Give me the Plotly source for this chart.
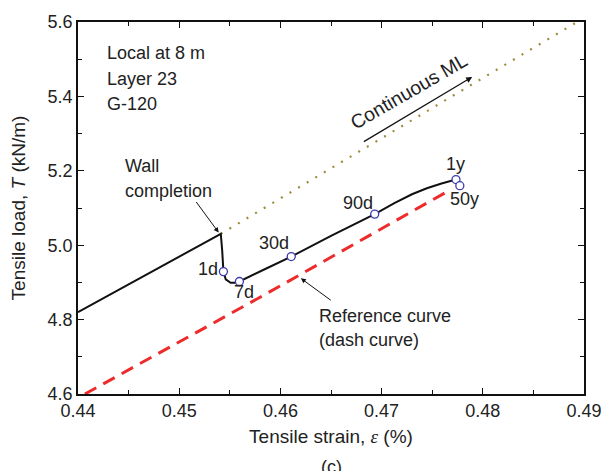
import plotly.graph_objects as go

# ---- data ----
strain_tl = [0.4400, 0.45411, 0.45425, 0.45437, 0.45460, 0.45508, 0.45550, 0.45595,
             0.4585, 0.46107, 0.4650, 0.46932, 0.47126, 0.47300, 0.47447, 0.47592, 0.47735]
load_tl = [4.820, 5.0305, 4.985, 4.929, 4.908, 4.899, 4.899, 4.9024,
           4.936, 4.9695, 5.025, 5.0836, 5.1130, 5.1370, 5.1530, 5.1660, 5.1764]

ml_strain = [0.45411, 0.4893]
ml_load = [5.0305, 5.600]

ref_strain = [0.44068, 0.45799, 0.47628]
ref_load = [4.600, 4.860, 5.141]

pt_labels = ["1d", "7d", "30d", "90d", "1y", "50y"]
pt_strain = [0.45437, 0.45595, 0.46107, 0.46932, 0.47735, 0.47773]
pt_load = [4.929, 4.9024, 4.9695, 5.0836, 5.1764, 5.160]
lbl_strain = [0.4528, 0.45637, 0.45937, 0.46764, 0.47727, 0.47823]
lbl_load = [4.937, 4.873, 5.005, 5.114, 5.218, 5.123]

xticks = [0.44, 0.45, 0.46, 0.47, 0.48, 0.49]
yticks = [4.6, 4.8, 5.0, 5.2, 5.4, 5.6]

FONT = "Liberation Sans, Arial, sans-serif"
TXT = "#222222"
FS = 18

fig = go.Figure()
fig.add_trace(go.Scatter(x=ml_strain, y=ml_load, mode="lines",
                         line=dict(color="#9c8c3c", width=2.2, dash="2px,8px"),
                         hoverinfo="skip", showlegend=False))
fig.add_trace(go.Scatter(x=ref_strain, y=ref_load, mode="lines",
                         line=dict(color="#ee2b2b", width=3, dash="13px,8px"),
                         showlegend=False))
fig.add_trace(go.Scatter(x=strain_tl, y=load_tl, mode="lines",
                         line=dict(color="#111111", width=2),
                         showlegend=False))
fig.add_trace(go.Scatter(x=pt_strain, y=pt_load, mode="markers",
                         marker=dict(symbol="circle", size=8, color="white",
                                     line=dict(color="#3a3ab0", width=1.3)),
                         showlegend=False))

ann = []
for t, xx, yy in zip(pt_labels, lbl_strain, lbl_load):
    ann.append(dict(x=xx, y=yy, xref="x", yref="y", text=t, showarrow=False,
                    font=dict(size=FS, color=TXT, family=FONT)))

for t, yy in zip(["Local at 8 m", "Layer 23", "G-120"], [5.516, 5.447, 5.379]):
    ann.append(dict(x=0.44266, y=yy, xref="x", yref="y", text=t, showarrow=False,
                    xanchor="left", font=dict(size=FS, color=TXT, family=FONT)))

for t, yy in zip(["Wall", "completion"], [5.213, 5.147]):
    ann.append(dict(x=0.44448, y=yy, xref="x", yref="y", text=t, showarrow=False,
                    xanchor="left", font=dict(size=FS, color=TXT, family=FONT)))
for t, yy in zip(["Reference curve", "(dash curve)"], [4.809, 4.746]):
    ann.append(dict(x=0.46361, y=yy, xref="x", yref="y", text=t, showarrow=False,
                    xanchor="left", font=dict(size=FS, color=TXT, family=FONT)))

# arrows
ann.append(dict(x=0.4539, y=5.034, ax=0.45158, ay=5.120, xref="x", yref="y",
                axref="x", ayref="y", text="", showarrow=True, arrowhead=2,
                arrowsize=1, arrowwidth=1, arrowcolor="#111"))
ann.append(dict(x=0.46202, y=4.911, ax=0.46513, ay=4.849, xref="x", yref="y",
                axref="x", ayref="y", text="", showarrow=True, arrowhead=2,
                arrowsize=1, arrowwidth=1, arrowcolor="#111"))
ann.append(dict(x=0.47895, y=5.452, ax=0.4681, ay=5.276, xref="x", yref="y",
                axref="x", ayref="y", text="", showarrow=True, arrowhead=2,
                arrowsize=1, arrowwidth=1.2, arrowcolor="#111"))
ann.append(dict(x=0.4727, y=5.415, xref="x", yref="y", text="Continuous ML",
                showarrow=False, textangle=-30,
                font=dict(size=19.5, color=TXT, family=FONT)))
ann.append(dict(x=0.5, y=-0.165, xref="paper", yref="paper", text="(c)",
                showarrow=False, yanchor="top",
                font=dict(size=FS, color=TXT, family=FONT)))

axis_common = dict(showgrid=False, zeroline=False, showline=True, linecolor="#111",
                   linewidth=1.5, mirror="ticks", ticks="inside", ticklen=6,
                   tickwidth=1.2, tickcolor="#111",
                   tickfont=dict(size=FS, color=TXT, family=FONT))

fig.update_xaxes(range=[0.44, 0.49], tickvals=xticks, tickformat=".2f",
                 minor=dict(dtick=0.005, ticks="inside", ticklen=4, tickcolor="#111"),
                 title=dict(text="Tensile strain, <span style='font-family:Liberation Serif'><i>ε</i></span> (%)",
                            font=dict(size=19, color=TXT, family=FONT), standoff=9),
                 **axis_common)
fig.update_yaxes(range=[4.6, 5.6], tickvals=yticks, tickformat=".1f",
                 minor=dict(dtick=0.1, ticks="inside", ticklen=4, tickcolor="#111"),
                 title=dict(text="Tensile load, <i>T</i> (kN/m)",
                            font=dict(size=19, color=TXT, family=FONT), standoff=17),
                 **axis_common)

fig.update_layout(width=614, height=471, margin=dict(l=78, r=21, t=17, b=77),
                  plot_bgcolor="white", paper_bgcolor="white", annotations=ann,
                  showlegend=False)
fig.write_html("out.html")
